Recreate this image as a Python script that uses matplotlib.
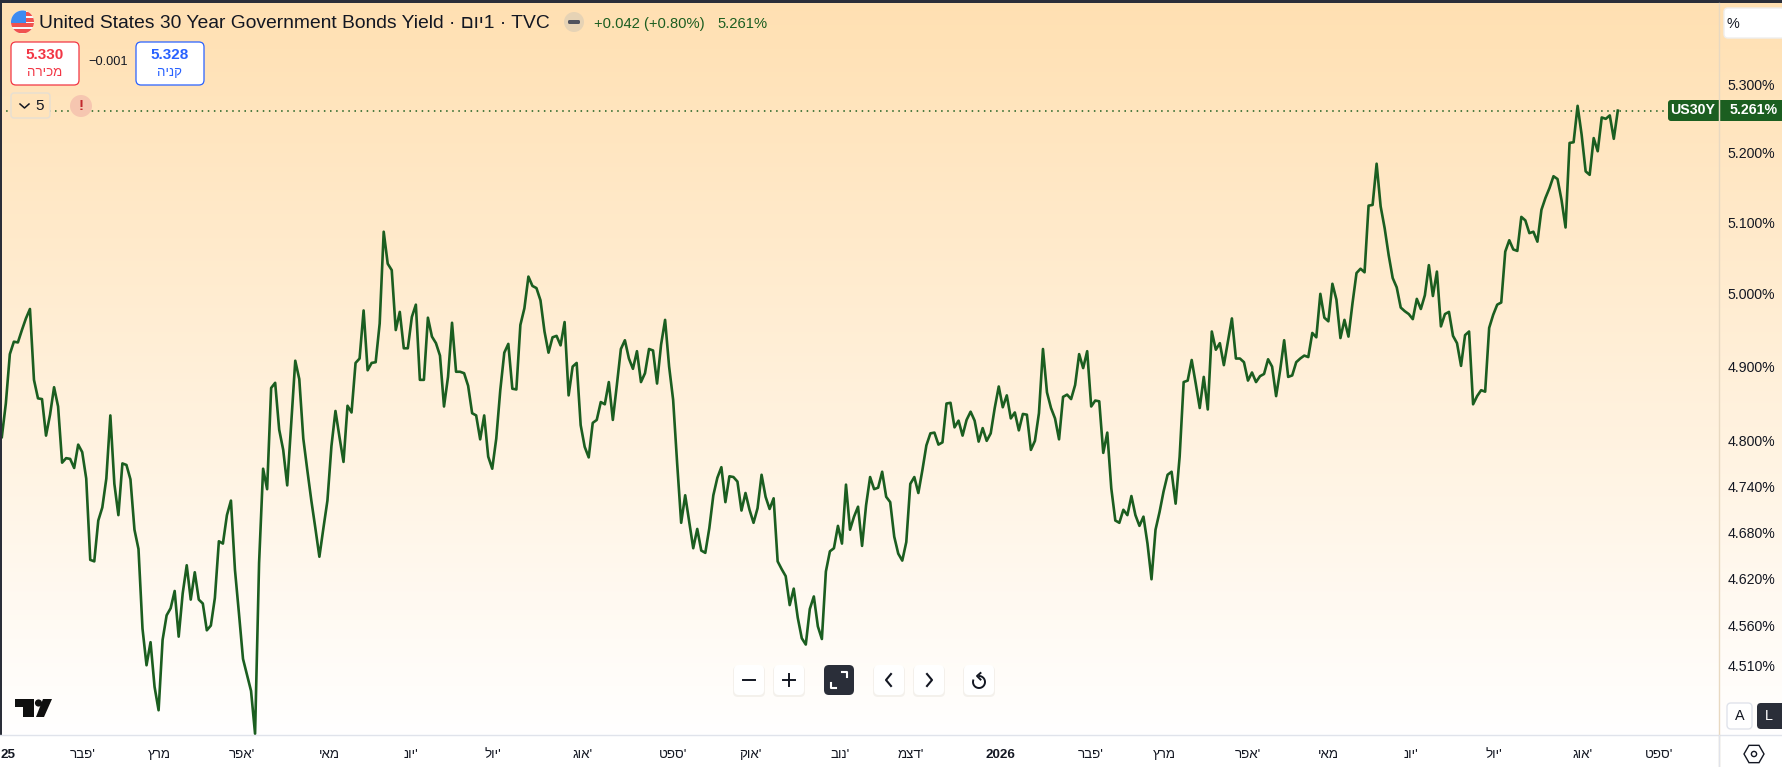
import numpy as np
import matplotlib
matplotlib.use('Agg')
import matplotlib.pyplot as plt
from matplotlib.patches import Circle, FancyBboxPatch, Polygon, Rectangle
from matplotlib.ticker import FixedLocator, FixedFormatter, NullLocator

plt.rcParams['font.family'] = ['Liberation Sans', 'DejaVu Sans']

# daily close
yield_pct = [
    4.805, 4.850, 4.917, 4.934, 4.933, 4.950, 4.966, 4.979, 4.882, 4.857, 4.856, 4.807, 4.835, 4.872, 4.846, 4.771,
    4.777, 4.776, 4.764, 4.795, 4.785, 4.750, 4.644, 4.642, 4.695, 4.712, 4.750, 4.834, 4.743, 4.702, 4.770, 4.768,
    4.749, 4.683, 4.658, 4.556, 4.510, 4.539, 4.483, 4.454, 4.542, 4.573, 4.582, 4.604, 4.546, 4.601, 4.637, 4.593,
    4.628, 4.593, 4.588, 4.554, 4.560, 4.595, 4.668, 4.665, 4.702, 4.721, 4.631, 4.575, 4.518, 4.498, 4.478, 4.425,
    4.640, 4.763, 4.736, 4.871, 4.878, 4.815, 4.788, 4.741, 4.823, 4.908, 4.883, 4.803, 4.761, 4.721, 4.685, 4.648,
    4.685, 4.721, 4.793, 4.840, 4.805, 4.772, 4.847, 4.838, 4.905, 4.911, 4.977, 4.895, 4.905, 4.906, 4.959, 5.087,
    5.042, 5.033, 4.950, 4.975, 4.925, 4.925, 4.968, 4.985, 4.882, 4.882, 4.967, 4.941, 4.932, 4.915, 4.846, 4.886,
    4.960, 4.893, 4.893, 4.891, 4.874, 4.837, 4.834, 4.802, 4.834, 4.779, 4.763, 4.803, 4.868, 4.919, 4.931, 4.870,
    4.869, 4.957, 4.980, 5.024, 5.011, 5.008, 4.991, 4.948, 4.919, 4.940, 4.942, 4.929, 4.961, 4.861, 4.900, 4.905,
    4.821, 4.792, 4.778, 4.824, 4.828, 4.852, 4.849, 4.879, 4.828, 4.875, 4.924, 4.936, 4.911, 4.897, 4.921, 4.879,
    4.891, 4.924, 4.922, 4.877, 4.930, 4.964, 4.900, 4.855, 4.770, 4.692, 4.728, 4.693, 4.659, 4.684, 4.656, 4.653,
    4.685, 4.728, 4.751, 4.765, 4.719, 4.753, 4.752, 4.746, 4.708, 4.731, 4.709, 4.692, 4.711, 4.755, 4.726, 4.710,
    4.724, 4.642, 4.632, 4.623, 4.586, 4.607, 4.570, 4.544, 4.536, 4.581, 4.597, 4.559, 4.543, 4.629, 4.655, 4.659,
    4.688, 4.665, 4.742, 4.683, 4.700, 4.713, 4.662, 4.715, 4.752, 4.736, 4.738, 4.759, 4.726, 4.719, 4.674, 4.652,
    4.643, 4.667, 4.743, 4.752, 4.731, 4.761, 4.794, 4.810, 4.811, 4.795, 4.798, 4.850, 4.851, 4.818, 4.827, 4.807,
    4.828, 4.839, 4.827, 4.799, 4.817, 4.800, 4.810, 4.844, 4.873, 4.845, 4.861, 4.830, 4.838, 4.814, 4.836, 4.835,
    4.788, 4.800, 4.837, 4.924, 4.865, 4.844, 4.830, 4.802, 4.859, 4.862, 4.856, 4.875, 4.917, 4.898, 4.921, 4.846,
    4.854, 4.853, 4.784, 4.811, 4.737, 4.695, 4.692, 4.709, 4.702, 4.727, 4.702, 4.688, 4.700, 4.665, 4.619, 4.683,
    4.706, 4.733, 4.755, 4.759, 4.717, 4.779, 4.879, 4.881, 4.909, 4.877, 4.844, 4.886, 4.842, 4.948, 4.923, 4.932,
    4.902, 4.934, 4.966, 4.911, 4.911, 4.906, 4.881, 4.892, 4.879, 4.887, 4.890, 4.910, 4.900, 4.860, 4.895, 4.936,
    4.886, 4.888, 4.906, 4.911, 4.915, 4.913, 4.946, 4.940, 5.000, 4.967, 4.962, 5.014, 4.992, 4.939, 4.964, 4.941,
    4.987, 5.029, 5.035, 5.030, 5.124, 5.125, 5.184, 5.123, 5.092, 5.054, 5.022, 5.009, 4.981, 4.976, 4.972, 4.965,
    4.993, 4.979, 4.998, 5.040, 4.997, 5.031, 4.955, 4.972, 4.975, 4.942, 4.932, 4.901, 4.943, 4.948, 4.849, 4.860,
    4.868, 4.866, 4.953, 4.971, 4.985, 4.988, 5.059, 5.075, 5.062, 5.060, 5.108, 5.103, 5.085, 5.087, 5.073, 5.118,
    5.135, 5.149, 5.166, 5.162, 5.132, 5.093, 5.214, 5.215, 5.268, 5.226, 5.173, 5.168, 5.221, 5.202, 5.251, 5.249,
    5.254, 5.220, 5.261,
]

y_ticks = [5.30, 5.20, 5.10, 5.00, 4.90, 4.80, 4.74, 4.68, 4.62, 4.56, 4.51]
last_close = 5.261

month_bars = [1.6, 20.1, 39.3, 59.7, 81.4, 101.8, 122.1, 144.5, 167.1, 186.3, 208.5, 226.1, 248.5, 270.9, 289.3,
              310, 330.1, 350.5, 371.2, 393.3, 412.2]
month_names = ['25', "'פבר", 'מרץ', "'אפר", 'מאי', "'יונ", "'יול", "'אוג", "'ספט", "'אוק", "'נוב", "'דצמ",
               '2026', "'פבר", 'מרץ', "'אפר", 'מאי', "'יונ", "'יול", "'אוג", "'ספט"]


def rtl(s):
    # matplotlib has no bidi, so hebrew goes in reversed
    return s[::-1] if any('\u0590' <= c <= '\u05ff' for c in s) else s


W, H = 1782, 767
GREEN = '#1B5E20'
TEXT = '#131722'

fig = plt.figure(figsize=(W / 100, H / 100), dpi=100, facecolor='white')

# background gradient behind plot and price scale
bg = fig.add_axes([0, (H - 735) / H, 1, 735 / H])
grad = np.linspace(0, 1, 256).reshape(-1, 1, 1)
top = np.array([255, 224, 178]) / 255
bg.imshow(top + (1 - top) * grad, aspect='auto')
bg.axis('off')

# price chart
ax = fig.add_axes([0, (H - 735) / H, 1719 / W, 732 / H], facecolor='none')
bar_px = 1616 / (len(yield_pct) - 1)
ax.plot(np.arange(len(yield_pct)), yield_pct, color=GREEN, lw=1.9, solid_joinstyle='round')
ax.axhline(last_close, color=GREEN, lw=1.1, ls=(0, (1, 3)), zorder=1)
ax.set_yscale('log')
ax.set_ylim(4.4235, 5.4206)
ax.yaxis.tick_right()
ax.yaxis.set_major_locator(FixedLocator(y_ticks))
ax.yaxis.set_major_formatter(FixedFormatter(['%.3f%%' % v for v in y_ticks]))
ax.yaxis.set_minor_locator(NullLocator())
ax.set_xticks(month_bars)
ax.set_xticklabels([rtl(s) for s in month_names])
ax.set_xlim(-0.45, -0.45 + 1719 / bar_px)
ax.tick_params(axis='y', length=0, pad=6, labelsize=10.2, labelcolor=TEXT)
ax.tick_params(axis='x', length=0, pad=10, labelsize=9.6, labelcolor=TEXT)
for lab in ax.get_xticklabels():
    if lab.get_text() in ('25', '2026'):
        lab.set_fontweight('bold')
for sp in ax.spines.values():
    sp.set_visible(False)

# overlay in pixels for the tradingview widgets
ui = fig.add_axes([0, 0, 1, 1], facecolor='none')
ui.set_xlim(0, W)
ui.set_ylim(H, 0)
ui.axis('off')


def box(x0, y0, x1, y1, fc='white', ec='none', r=4, lw=1.0, **kw):
    p = FancyBboxPatch((x0, y0), x1 - x0, y1 - y0, boxstyle='round,pad=0,rounding_size=%g' % r,
                       fc=fc, ec=ec, lw=lw, **kw)
    ui.add_patch(p)
    return p


def label(x, y, s, size, color=TEXT, ha='center', weight='normal'):
    ui.text(x, y, s, fontsize=size, color=color, ha=ha, va='center', fontweight=weight)


# frame and separators
ui.add_patch(Rectangle((0, 0), W, 3, fc='#2A2E39', ec='none'))
ui.add_patch(Rectangle((0, 0), 2, 735, fc='#2A2E39', ec='none'))
ui.plot([0, W], [735, 735], color='#E0E3EB', lw=1)
ui.plot([1719, 1719], [3, H], color='#E8D9C2', lw=1)
ui.plot([1719, 1719], [735, H], color='#E0E3EB', lw=1)

# flag
flag = Circle((22.5, 22), 11.5, fc='#F7F8FA', ec='none')
ui.add_patch(flag)
for y0 in (24, 30):
    s = Rectangle((10, y0 - 1), 26, 3.5, fc='#F0524F', ec='none')
    ui.add_patch(s)
    s.set_clip_path(flag)
s = Rectangle((26, 12), 10, 3.5, fc='#F0524F', ec='none')
ui.add_patch(s)
s.set_clip_path(flag)
s = Rectangle((26, 18), 10, 3.5, fc='#F0524F', ec='none')
ui.add_patch(s)
s.set_clip_path(flag)
s = Rectangle((10, 10), 16, 13, fc='#3D8BF0', ec='none')
ui.add_patch(s)
s.set_clip_path(flag)

# title row
ui.text(39, 24, 'United States 30 Year Government Bonds Yield · ' + rtl('1יום') + ' · TVC',
        fontsize=13.9, color=TEXT, ha='left', va='center')
ui.add_patch(Circle((574, 22), 10, fc='#E6D3B5', ec='none'))
box(568, 20, 580, 24, fc='#50535E', r=1.5)
label(594, 24, '+0.042 (+0.80%)', 10.6, color=GREEN, ha='left')
label(717, 24, '5.261%', 10.6, color=GREEN, ha='left')

# sell / buy boxes
box(11, 42, 79, 85, ec='#F23645', r=5, lw=0.9)
label(45, 55, '5.330', 11, color='#F23645', weight='bold')
label(45, 73, rtl('מכירה'), 9.6, color='#F23645')
label(108, 62, '−0.001', 9.2)
box(136, 42, 204, 85, ec='#2962FF', r=5, lw=0.9)
label(170, 55, '5.328', 11, color='#2962FF', weight='bold')
label(170, 73, rtl('קניה'), 9.6, color='#2962FF')

# collapsed indicators and warning
box(11, 93, 50, 118, fc='#FFE3BA', ec='#E6DFD3', r=3)
ui.plot([20, 24.5, 29], [104, 108, 104], color=TEXT, lw=1.1)
label(40, 106, '5', 11)
ui.add_patch(Circle((81, 106), 11, fc='#F6C6B0', ec='none'))
label(81, 106, '!', 11, color='#C2272D', weight='bold')

# price scale bits
box(1724, 8, 1800, 38, r=4, ec='#EFEFEF')
label(1733, 24, '%', 10.4, ha='center')
box(1668, 100, 1790, 121, fc=GREEN, r=3)
ui.plot([1719, 1719], [100, 121], color='#E8D9C2', lw=0.8)
label(1693, 110.5, 'US30Y', 10.2, color='white', weight='bold')
label(1754, 110.5, '5.261%', 10.2, color='white', weight='bold')

# A / L
box(1727, 703, 1752, 729, ec='#E0E3EB', r=4)
label(1739.5, 716, 'A', 10.4)
box(1757, 703, 1790, 729, fc='#2A2E39', r=4)
label(1769, 716, 'L', 10.4, color='white')

# settings hexagon
ang = np.deg2rad(np.arange(0, 360, 60))
ui.add_patch(Polygon(np.c_[1754 + 10 * np.cos(ang), 754 + 10 * np.sin(ang)], closed=True, fc='none', ec=TEXT, lw=1))
ui.add_patch(Circle((1754, 754), 2.6, fc='none', ec=TEXT, lw=1))

# zoom buttons
for x0, dark in [(734, False), (774, False), (824, True), (874, False), (914, False), (964, False)]:
    if not dark:
        box(x0 - 1, 666, x0 + 31, 697, fc='#EDE9E3', r=5, alpha=0.6)
    box(x0, 665, x0 + 30, 695, fc='#2A2E39' if dark else 'white', r=5)
ui.plot([743, 755], [680, 680], color=TEXT, lw=1.4)
ui.plot([783, 795], [680, 680], color=TEXT, lw=1.4)
ui.plot([789, 789], [674, 686], color=TEXT, lw=1.4)
ui.plot([842, 847, 847], [672, 672, 677], color='white', lw=1.5)
ui.plot([831, 831, 836], [683, 688, 688], color='white', lw=1.5)
ui.plot([891, 886, 891], [674, 680, 686], color=TEXT, lw=1.5)
ui.plot([927, 932, 927], [674, 680, 686], color=TEXT, lw=1.5)
t = np.deg2rad(np.linspace(-85, 195, 40))
ui.plot(979 + 6 * np.cos(t), 682 + 6 * np.sin(t), color=TEXT, lw=1.4)
ui.plot([980.5, 977, 980.5], [673, 676, 679.5], color=TEXT, lw=1.4)

# tradingview mark
ui.add_patch(Polygon([(15, 699), (34, 699), (34, 717), (23, 717), (23, 707), (15, 707)], closed=True, fc='#0F0F0F', ec='none'))
ui.add_patch(Circle((38.5, 703), 3.6, fc='#0F0F0F', ec='none'))
ui.add_patch(Polygon([(43, 699), (52, 699), (44, 717), (36, 717)], closed=True, fc='#0F0F0F', ec='none'))

fig.savefig('out.png', dpi=100)
